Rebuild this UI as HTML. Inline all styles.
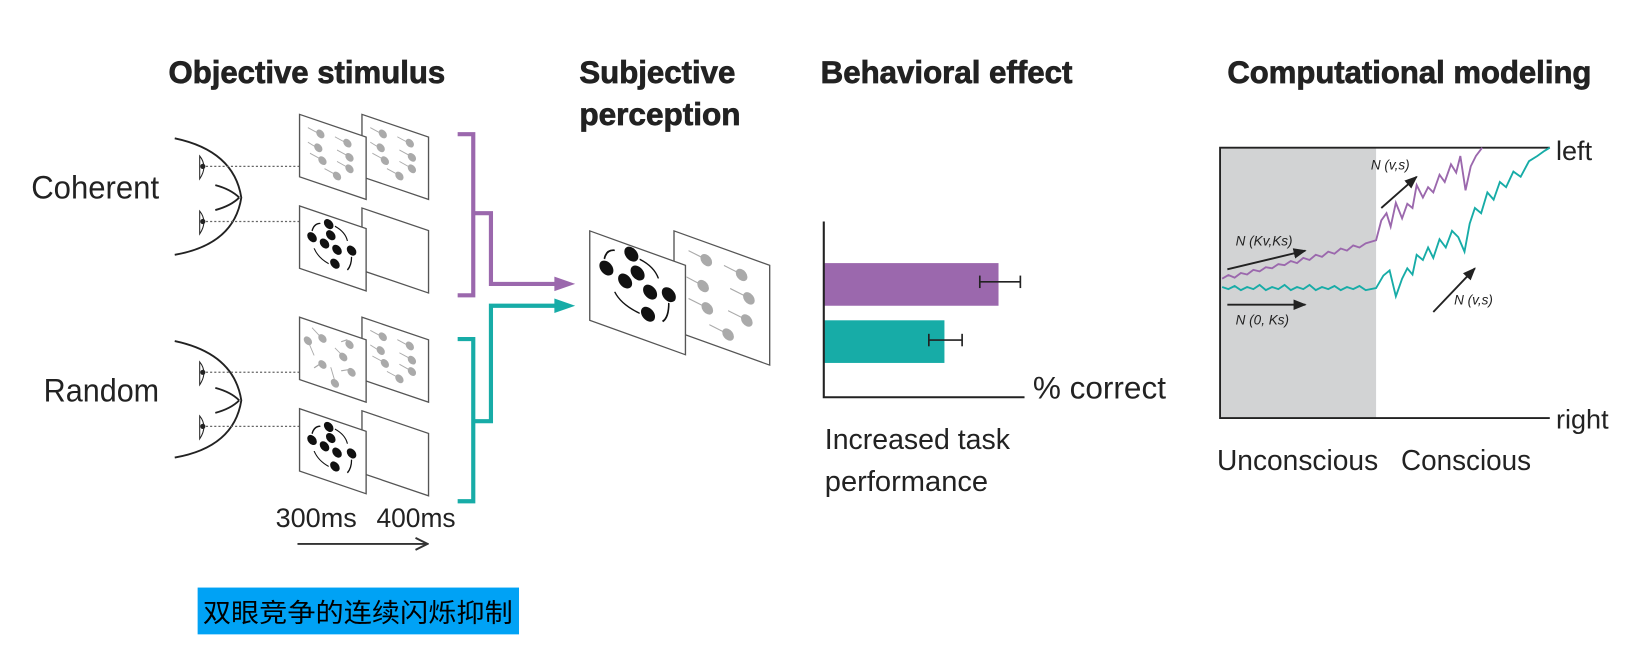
<!DOCTYPE html>
<html><head><meta charset="utf-8"><style>
html,body{margin:0;padding:0;background:#fff;width:1633px;height:651px;overflow:hidden}
svg{display:block}
.t{font-family:"Liberation Sans Narrow","Liberation Sans",sans-serif;font-weight:bold;fill:#222;stroke:#222;stroke-width:0.7}
.n{font-family:"Liberation Sans Narrow","Liberation Sans",sans-serif;fill:#222}
.i{font-family:"Liberation Sans",sans-serif;font-style:italic;fill:#222;font-size:13px}
</style></head><body>
<svg width="1633" height="651" viewBox="0 0 1570 626" preserveAspectRatio="none" xmlns="http://www.w3.org/2000/svg">
<defs>
<marker id="ah" viewBox="0 0 10 10" refX="9" refY="5" markerWidth="7" markerHeight="7" orient="auto"><path d="M0,1 L10,5 L0,9 z" fill="#222"/></marker>
<marker id="ao" viewBox="0 0 10 10" refX="9" refY="5" markerWidth="8" markerHeight="8" orient="auto"><path d="M1,1 L9,5 L1,9" fill="none" stroke="#333" stroke-width="1.3"/></marker>
<g id="gray">
<rect x="0" y="0" width="64" height="60" fill="#fff" stroke="#555" stroke-width="1.3"/>
<g fill="#aaa" stroke="#aaa" stroke-width="1">
<line x1="8" y1="10" x2="18" y2="12"/><circle cx="20" cy="12" r="3.5"/>
<line x1="34" y1="10" x2="44" y2="12"/><circle cx="46" cy="12" r="3.5"/>
<line x1="8" y1="24" x2="15" y2="26"/><circle cx="18" cy="26" r="3.5"/>
<line x1="36" y1="22" x2="46" y2="24"/><circle cx="48" cy="25" r="3.5"/>
<line x1="10" y1="34" x2="20" y2="36"/><circle cx="22" cy="37" r="3.5"/>
<line x1="36" y1="33" x2="45" y2="35"/><circle cx="48" cy="36" r="3.5"/>
<line x1="24" y1="44" x2="34" y2="46"/><circle cx="36" cy="47" r="3.5"/>
</g></g>
<g id="rand">
<rect x="0" y="0" width="64" height="60" fill="#fff" stroke="#555" stroke-width="1.3"/>
<g fill="#aaa" stroke="#aaa" stroke-width="1">
<line x1="12" y1="6" x2="20" y2="12"/><circle cx="22" cy="13" r="3.5"/>
<line x1="46" y1="6" x2="40" y2="10"/><circle cx="48" cy="10" r="3.5"/>
<circle cx="8" cy="20" r="3.5"/><line x1="8" y1="20" x2="14" y2="32"/>
<line x1="34" y1="18" x2="40" y2="22"/><circle cx="42" cy="24" r="3.5"/>
<line x1="14" y1="44" x2="20" y2="38"/><circle cx="22" cy="38" r="3.5"/>
<line x1="30" y1="38" x2="34" y2="50"/><circle cx="34" cy="52" r="3.5"/>
<line x1="48" y1="34" x2="40" y2="38"/><circle cx="50" cy="36" r="3.5"/>
</g></g>
<g id="black">
<rect x="0" y="0" width="64" height="60" fill="#fff" stroke="#555" stroke-width="1.3"/>
<g fill="#111" stroke="#111" stroke-width="1.2">
<circle cx="28" cy="8" r="4"/><circle cx="30" cy="18" r="4"/><circle cx="12" cy="26" r="4"/><circle cx="24" cy="28" r="4"/>
<circle cx="36" cy="30" r="4"/><circle cx="50" cy="26" r="4"/><circle cx="34" cy="44" r="4"/>
<path d="M34,8 Q44,10 46,18" fill="none"/><path d="M12,20 Q14,12 20,10" fill="none"/>
<path d="M50,32 Q50,40 46,46" fill="none"/><path d="M28,46 Q18,44 14,36" fill="none"/>
</g></g>
<g id="blank"><rect x="0" y="0" width="64" height="60" fill="#fff" stroke="#555" stroke-width="1.3"/></g>
</defs>

<text class="t" x="162" y="80" font-size="30" textLength="266" lengthAdjust="spacingAndGlyphs">Objective stimulus</text>
<text class="t" x="557" y="80" font-size="30" textLength="150" lengthAdjust="spacingAndGlyphs">Subjective</text>
<text class="t" x="557" y="120" font-size="30" textLength="155" lengthAdjust="spacingAndGlyphs">perception</text>
<text class="t" x="789" y="80" font-size="30" textLength="242" lengthAdjust="spacingAndGlyphs">Behavioral effect</text>
<text class="t" x="1180" y="80" font-size="30" textLength="350" lengthAdjust="spacingAndGlyphs">Computational modeling</text>

<text class="n" x="30" y="191" font-size="31" textLength="123" lengthAdjust="spacingAndGlyphs">Coherent</text>
<text class="n" x="42" y="386" font-size="31" textLength="111" lengthAdjust="spacingAndGlyphs">Random</text>

<g fill="none" stroke="#222" stroke-width="1.8">
<path d="M168,133 Q225,145 232,190 Q225,235 168,245"/>
<path d="M207,178 Q222,182 230,190 M207,202 Q222,198 230,190"/>
<path d="M168,328 Q225,340 232,385 Q225,430 168,440"/>
<path d="M207,373 Q222,377 230,385 M207,397 Q222,393 230,385"/>
</g>
<g stroke="#222" stroke-width="1" fill="#fff">
<path d="M192,150 Q200,160 192,172 Z"/><path d="M192,203 Q200,213 192,225 Z"/>
<path d="M192,348 Q200,358 192,370 Z"/><path d="M192,400 Q200,410 192,422 Z"/>
</g>
<g fill="#222"><circle cx="195" cy="160" r="2.5"/><circle cx="195" cy="213" r="2.5"/><circle cx="195" cy="358" r="2.5"/><circle cx="195" cy="410" r="2.5"/></g>
<g stroke="#666" stroke-width="1.2" stroke-dasharray="2,2">
<line x1="198" y1="160" x2="288" y2="160"/><line x1="198" y1="213" x2="288" y2="213"/>
<line x1="198" y1="358" x2="288" y2="358"/><line x1="198" y1="410" x2="288" y2="410"/>
</g>

<use href="#gray" transform="matrix(1,0.34,0,1,348,110)"/>
<use href="#gray" transform="matrix(1,0.34,0,1,288,110)"/>
<use href="#blank" transform="matrix(1,0.34,0,1,348,200)"/>
<use href="#black" transform="matrix(1,0.34,0,1,288,198)"/>
<use href="#gray" transform="matrix(1,0.34,0,1,348,305)"/>
<use href="#rand" transform="matrix(1,0.34,0,1,288,305)"/>
<use href="#blank" transform="matrix(1,0.34,0,1,348,395)"/>
<use href="#black" transform="matrix(1,0.34,0,1,288,393)"/>

<text class="n" x="265" y="507" font-size="26" textLength="78" lengthAdjust="spacingAndGlyphs">300ms</text>
<text class="n" x="362" y="507" font-size="26" textLength="76" lengthAdjust="spacingAndGlyphs">400ms</text>
<line x1="286" y1="523" x2="411" y2="523" stroke="#333" stroke-width="1.8" marker-end="url(#ao)"/>

<g fill="none" stroke-width="4">
<path d="M440,129 H455 V284 H440" stroke="#9b68ad"/>
<path d="M455,205 H472 V273 H535" stroke="#9b68ad"/>
<path d="M440,326 H455 V482 H440" stroke="#17aca7"/>
<path d="M455,405 H472 V294 H535" stroke="#17aca7"/>
</g>
<path d="M533,266 L553,273 L533,280 Z" fill="#9b68ad"/>
<path d="M533,287 L553,294 L533,301 Z" fill="#17aca7"/>

<g transform="matrix(1,0.36,0,1,648,222)">
<rect x="0" y="0" width="92" height="96" fill="#fff" stroke="#555" stroke-width="1.3"/>
<g fill="#aaa" stroke="#aaa" stroke-width="1.2">
<line x1="14" y1="14" x2="28" y2="16"/><circle cx="31" cy="17" r="5"/>
<line x1="48" y1="16" x2="62" y2="18"/><circle cx="65" cy="19" r="5"/>
<line x1="12" y1="40" x2="24" y2="42"/><circle cx="28" cy="43" r="5"/>
<line x1="54" y1="36" x2="68" y2="38"/><circle cx="72" cy="39" r="5"/>
<line x1="14" y1="60" x2="28" y2="62"/><circle cx="32" cy="63" r="5"/>
<line x1="52" y1="58" x2="66" y2="60"/><circle cx="70" cy="61" r="5"/>
<line x1="34" y1="78" x2="48" y2="80"/><circle cx="52" cy="81" r="5"/>
</g></g>
<g transform="matrix(1,0.36,0,1,567,222)">
<rect x="0" y="0" width="92" height="86" fill="#fff" stroke="#555" stroke-width="1.3"/>
<g fill="#111" stroke="#111" stroke-width="1.5">
<circle cx="40" cy="8" r="6"/><circle cx="46" cy="24" r="6"/><circle cx="16" cy="30" r="6"/><circle cx="34" cy="36" r="6"/>
<circle cx="58" cy="38" r="6"/><circle cx="76" cy="34" r="6"/><circle cx="56" cy="60" r="6"/>
<path d="M48,10 Q62,12 66,22" fill="none"/><path d="M14,22 Q16,12 24,10" fill="none"/>
<path d="M76,42 Q76,56 70,62" fill="none"/><path d="M48,62 Q30,60 24,50" fill="none"/>
</g></g>

<rect x="792" y="253" width="168" height="41" fill="#9b68ad"/>
<rect x="792" y="308" width="116" height="41" fill="#17aca7"/>
<g stroke="#222" stroke-width="1.6">
<line x1="942" y1="271" x2="981" y2="271"/><line x1="942" y1="265" x2="942" y2="277"/><line x1="981" y1="265" x2="981" y2="277"/>
<line x1="893" y1="327" x2="925" y2="327"/><line x1="893" y1="321" x2="893" y2="333"/><line x1="925" y1="321" x2="925" y2="333"/>
</g>
<path d="M792,213 V382 H985" fill="none" stroke="#222" stroke-width="2"/>
<text class="n" x="993" y="383" font-size="30" textLength="128" lengthAdjust="spacingAndGlyphs">% correct</text>
<text class="n" x="793" y="432" font-size="28" textLength="178" lengthAdjust="spacingAndGlyphs">Increased task</text>
<text class="n" x="793" y="472" font-size="28" textLength="157" lengthAdjust="spacingAndGlyphs">performance</text>

<rect x="1173" y="142" width="150" height="260" fill="#d2d3d4"/>
<path d="M1490,142 H1173 V402 H1490" fill="none" stroke="#222" stroke-width="1.8"/>
<text class="n" x="1496" y="154" font-size="26">left</text>
<text class="n" x="1496" y="412" font-size="26">right</text>
<polyline fill="none" stroke="#9b68ad" stroke-width="1.8" points="1175,268 1181,264.5 1187,267 1193,262.5 1199,264 1205,259.5 1211,261 1217,257 1223,258 1229,254 1235,255 1241,251 1247,253 1253,248 1259,250 1265,245 1271,247 1277,242 1283,244 1289,239 1295,241 1301,236 1307,238 1313,234 1323,231 1328,212 1333,205 1337,218 1342,195 1348,210 1353,196 1358,200 1362,178 1368,190 1373,180 1378,185 1384,168 1389,175 1395,158 1400,166 1404,150 1409,183 1414,160 1419,150 1425,142"/>
<polyline fill="none" stroke="#17aca7" stroke-width="1.8" points="1175,276 1181,278 1187,275 1193,279 1199,276 1205,278 1211,274 1217,279 1223,276 1229,278 1235,274 1241,279 1247,276 1253,278 1259,274 1265,279 1271,276 1277,278 1283,275 1289,279 1295,276 1301,278 1307,275 1313,279 1323,277 1330,265 1336,260 1342,285 1348,268 1353,258 1358,264 1362,245 1368,250 1373,238 1378,248 1384,230 1390,238 1396,222 1402,228 1408,242 1413,215 1418,200 1424,205 1430,185 1436,192 1442,175 1448,180 1455,165 1462,170 1470,155 1478,150 1485,145 1490,142"/>
<g stroke="#222" stroke-width="1.8" marker-end="url(#ah)">
<line x1="1180" y1="259" x2="1255" y2="241"/>
<line x1="1180" y1="293" x2="1255" y2="293"/>
<line x1="1328" y1="200" x2="1362" y2="170"/>
<line x1="1378" y1="300" x2="1418" y2="258"/>
</g>
<text class="i" x="1188" y="236">N (Kv,Ks)</text>
<text class="i" x="1188" y="312">N (0, Ks)</text>
<text class="i" x="1318" y="163">N (v,s)</text>
<text class="i" x="1398" y="293">N (v,s)</text>
<text class="n" x="1170" y="452" font-size="28" textLength="155" lengthAdjust="spacingAndGlyphs">Unconscious</text>
<text class="n" x="1347" y="452" font-size="28" textLength="125" lengthAdjust="spacingAndGlyphs">Conscious</text>

<rect x="190" y="565" width="309" height="45" fill="#00a2f5"/>
<text x="195" y="598" font-size="25" fill="#000" font-family="'Liberation Sans','Noto Sans CJK SC',sans-serif" textLength="298" lengthAdjust="spacingAndGlyphs">双眼竞争的连续闪烁抑制</text>
</svg>
</body></html>
